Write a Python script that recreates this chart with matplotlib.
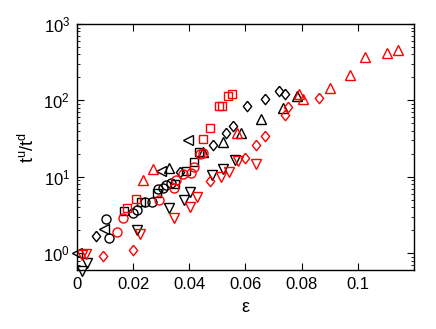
import matplotlib
matplotlib.use("Agg")
import matplotlib.pyplot as plt
from matplotlib.ticker import LogLocator, NullFormatter, FixedLocator

plt.rcParams["font.family"] = ["Liberation Sans", "DejaVu Sans"]

# black series
blk_diam_x = [0.0068, 0.0366, 0.0483, 0.0529, 0.0554, 0.0607, 0.0668, 0.0718, 0.0742]
blk_diam_y = [1.67, 11.5, 25.9, 37.2, 45.9, 84, 104, 132, 121]
blk_circ_x = [0.0103, 0.0114, 0.0199, 0.0213, 0.0242, 0.0266, 0.0288, 0.0305, 0.0316, 0.0334]
blk_circ_y = [2.79, 1.57, 3.34, 3.65, 4.65, 4.65, 6.88, 7.09, 7.77, 8.25]
blk_sq_x = [0.0167, 0.0227, 0.0284, 0.0348, 0.0387, 0.0416, 0.0433]
blk_sq_y = [3.55, 4.65, 6.10, 8.0, 11.8, 15.5, 21.0]
blk_up_x = [0.0327, 0.0448, 0.0519, 0.0583, 0.0654, 0.0732, 0.0785]
blk_up_y = [13.0, 21.0, 28.4, 37.2, 56.7, 79, 113]
blk_dn_x = [0.0018, 0.0036, 0.0213, 0.0327, 0.0380, 0.0401, 0.0480, 0.0519, 0.0561]
blk_dn_y = [0.58, 0.74, 2.0, 3.88, 4.94, 6.29, 10.5, 12.6, 16.5]
blk_left_x = [0.0, 0.0096, 0.0298, 0.0394]
blk_left_y = [1.0, 2.06, 11.8, 30.1]

# red series
red_up_x = [0.0234, 0.0270, 0.0568, 0.0789, 0.0806, 0.0902, 0.0973, 0.1027, 0.1105, 0.1144]
red_up_y = [9.0, 12.6, 37.2, 121, 104, 144, 214, 368, 415, 454]
red_diam_x = [0.0092, 0.0199, 0.0472, 0.0600, 0.0639, 0.0671, 0.0739, 0.0753, 0.0863]
red_diam_y = [0.91, 1.09, 8.75, 17.5, 25.9, 34, 64, 81.5, 107]
red_dn_x = [0.0018, 0.0032, 0.0224, 0.0345, 0.0401, 0.0426, 0.0512, 0.0540, 0.0572, 0.0639]
red_dn_y = [0.94, 0.97, 1.77, 2.87, 4.0, 5.41, 9.9, 11.5, 16.0, 14.6]
red_circ_x = [0.0142, 0.0163, 0.0291, 0.0345, 0.0352, 0.0377, 0.0405, 0.0416, 0.0437, 0.0448]
red_circ_y = [1.88, 2.87, 4.94, 7.09, 9.0, 10.8, 11.1, 13.4, 19.8, 20.4]
red_sq_x = [0.0178, 0.0210, 0.0448, 0.0472, 0.0504, 0.0515, 0.0536, 0.0551]
red_sq_y = [3.88, 5.09, 31.1, 43.3, 84, 84, 113, 121]

xticks = [0, 0.02, 0.04, 0.06, 0.08, 0.1]
xtick_labels = ["0", "0.02", "0.04", "0.06", "0.08", "0.1"]

# gnuplot-like diamond, a bit taller than wide
diamond = [(0, 1), (0.8, 0), (0, -1), (-0.8, 0), (0, 1)]

fig = plt.figure(figsize=(4.36, 3.29), dpi=100)
ax = fig.add_axes([0.1766, 0.179, 0.7729, 0.748])

series = [
    (blk_diam_x, blk_diam_y, diamond, "black", 7.5),
    (blk_circ_x, blk_circ_y, "o", "black", 6.5),
    (blk_sq_x, blk_sq_y, "s", "black", 6),
    (blk_up_x, blk_up_y, "^", "black", 7.5),
    (blk_dn_x, blk_dn_y, "v", "black", 7.5),
    (blk_left_x, blk_left_y, "<", "black", 7.5),
    (red_up_x, red_up_y, "^", "red", 7.5),
    (red_diam_x, red_diam_y, diamond, "red", 7.5),
    (red_dn_x, red_dn_y, "v", "red", 7.5),
    (red_circ_x, red_circ_y, "o", "red", 6.5),
    (red_sq_x, red_sq_y, "s", "red", 6),
]
for xs, ys, m, c, ms in series:
    ax.plot(xs, ys, linestyle="none", marker=m, markersize=ms,
            markerfacecolor="none", markeredgecolor=c, markeredgewidth=1.0,
            clip_on=False)

ax.set_yscale("log")
ax.set_xlim(0, 0.12)
ax.set_ylim(0.6, 1000)
ax.xaxis.set_major_locator(FixedLocator(xticks))
ax.set_xticklabels(xtick_labels)
ax.yaxis.set_major_locator(LogLocator(base=10, numticks=10))
ax.yaxis.set_minor_locator(LogLocator(base=10, subs=range(2, 10), numticks=10))
ax.yaxis.set_minor_formatter(NullFormatter())

ax.tick_params(which="both", direction="in", top=True, right=True, labelsize=12)
ax.tick_params(which="major", length=5, width=0.8, pad=5)
ax.tick_params(which="minor", length=2.5, width=0.6)
for s in ax.spines.values():
    s.set_linewidth(1.0)

ax.set_xlabel("ε", fontsize=13, labelpad=5)
ax.set_ylabel("t$^{\\mathregular{u}}$/t$^{\\mathregular{d}}$", fontsize=13, labelpad=4)

fig.savefig("out.png", dpi=100)
